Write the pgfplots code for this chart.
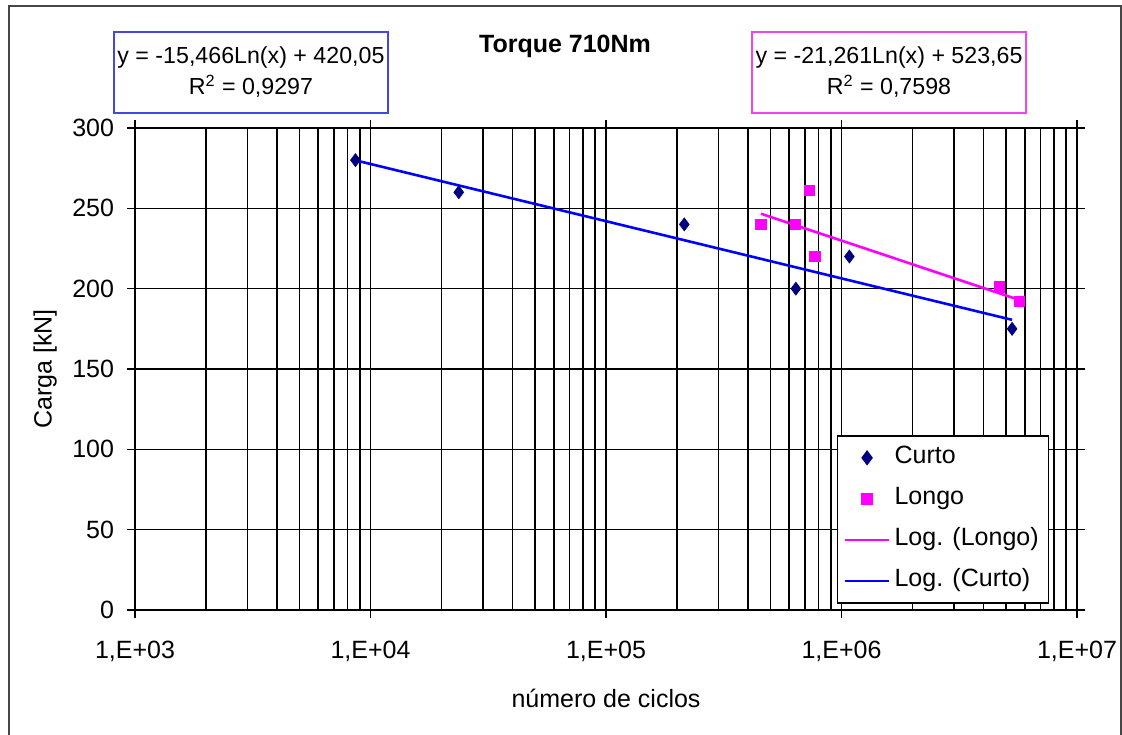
\documentclass[border=0pt]{standalone}
\usepackage{fontspec}
\setmainfont{Liberation Sans}
\usepackage{pgfplots}
\pgfplotsset{compat=1.18}
\definecolor{navyc}{RGB}{0,0,128}
\definecolor{magc}{RGB}{255,0,255}
\definecolor{bluec}{RGB}{0,0,255}
\definecolor{boxblue}{RGB}{70,70,230}
\definecolor{boxmag}{RGB}{240,70,240}
\definecolor{framec}{RGB}{70,70,70}
\begin{document}
\begin{tikzpicture}
\useasboundingbox (0,0) rectangle (561pt,367pt);
\draw[framec, line width=1pt] (4.5pt,-5pt) -- (4.5pt,364pt) -- (560.5pt,364pt) -- (560.5pt,-5pt);
\begin{axis}[
  at={(67.5pt,62pt)}, anchor=south west,
  scale only axis, width=471pt, height=241pt,
  xmode=log, xmin=1e3, xmax=1e7, ymin=0, ymax=300,
  xtick={1e3,1e4,1e5,1e6,1e7},
  xticklabels={{1,E+03},{1,E+04},{1,E+05},{1,E+06},{1,E+07}},
  ytick={0,50,100,150,200,250,300},
  /pgf/number format/assume math mode=true,
  tick align=outside, major tick length=4pt, minor tick length=0pt,
  tick style={black, line width=0.8pt},
  grid=both,
  major grid style={black, line width=0.8pt},
  minor grid style={black, line width=0.8pt},
  axis line style={black, line width=0.8pt},
  font=\fontsize{12.5}{15}\selectfont,
  ticklabel style={font=\fontsize{12.5}{15}\selectfont},
  xticklabel style={yshift=-8pt},
  yticklabel style={xshift=-3pt},
  xlabel={número de ciclos},
  xlabel style={at={(axis description cs:0.5,-0.183)}, anchor=center},
  ylabel={Carga [kN]},
  ylabel style={at={(axis description cs:-0.0955,0.5)}, anchor=center, rotate=0},
  title={\bfseries Torque 710Nm},
  title style={at={(axis description cs:0.4565,1.145)}, anchor=center},
  legend style={at={(axis description cs:0.745,0.363)}, anchor=north west,
    draw=black, fill=white, line width=0.8pt, inner xsep=3pt, inner ysep=3pt,
    row sep=4.5pt,
    nodes={inner sep=2pt, text height=9pt, text depth=3pt, anchor=west},
    font=\fontsize{12.5}{15}\selectfont},
  legend cell align=left,
  legend image code/.code={\draw[mark repeat=2,mark phase=2,#1] plot coordinates {(0cm,0cm) (0.39cm,0cm) (0.78cm,0cm)};},
  clip=false,
]
\addplot[only marks, mark=diamond*, mark size=3.2pt, color=navyc] coordinates {
  (8630,280) (23700,260) (215000,240) (640000,200) (1080000,220) (5300000,175)
};
\addlegendentry{Curto}
\addplot[only marks, mark=square*, mark size=2.6pt, color=magc] coordinates {
  (455000,240) (637000,240) (729000,261) (771000,220) (4680000,201) (5690000,192)
};
\addlegendentry{Longo}
\addplot[magc, line width=1.3pt, no marks] coordinates {
  (455000,246.66) (5690000,192.96)
};
\addlegendentry{Log. (Longo)}
\addplot[bluec, line width=1.3pt, no marks] coordinates {
  (8630,279.88) (5300000,180.60)
};
\addlegendentry{Log. (Curto)}
\node[draw=boxblue, line width=1pt, fill=white, minimum width=137pt, minimum height=40.5pt, inner xsep=1pt, align=center, font=\fontsize{11.6}{15.5}\selectfont]
  at (axis description cs:0.1231,1.1151) {y = -15,466Ln(x) + 420,05\\R\textsuperscript{2} = 0,9297};
\node[draw=boxmag, line width=1pt, fill=white, minimum width=137pt, minimum height=40.5pt, inner xsep=1pt, align=center, font=\fontsize{11.6}{15.5}\selectfont]
  at (axis description cs:0.8004,1.1151) {y = -21,261Ln(x) + 523,65\\R\textsuperscript{2} = 0,7598};
\end{axis}
\end{tikzpicture}
\end{document}
